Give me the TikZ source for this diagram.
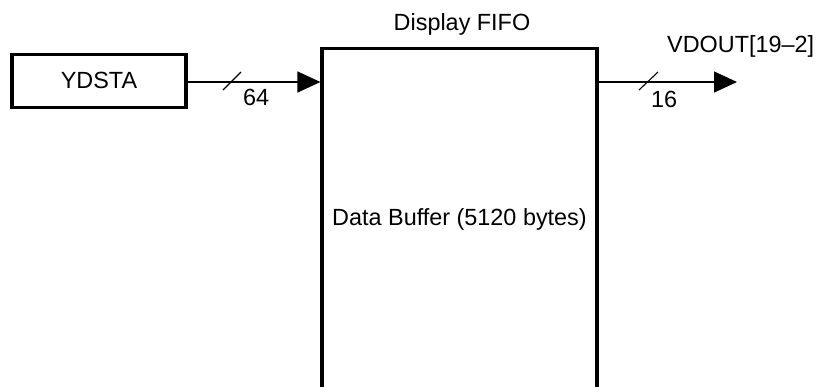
\documentclass[tikz,border=0pt]{standalone}
\usepackage{fontspec}
\setmainfont{Liberation Sans}
\usetikzlibrary{arrows.meta,calc}
\begin{document}
\begin{tikzpicture}[x=1pt,y=-1pt,
  txt/.style={font=\fontsize{23.4}{28}\selectfont, inner sep=0pt},
  blk/.style={draw, line width=3.2pt, inner sep=0pt},
  bus/.style={line width=1.3pt, -{Triangle[length=23pt,width=21pt]}},
  slashmark/.style={line width=1.1pt}]
\clip (0,0) rectangle (817,386);
\node[blk, minimum width=174pt, minimum height=53pt] (yd) at (99,81) {};
\node[txt, anchor=base] (ydt) at (99,88) {YDSTA};
\node[blk, minimum width=275pt, minimum height=420pt, anchor=north] (fifo) at (459.5,47) {};
\node[txt, anchor=base] (title) at (462,30) {Display FIFO};
\node[txt, anchor=base] (buf) at (459.5,225) {Data Buffer (5120 bytes)};
\coordinate (out) at (737,82);
\draw[bus] (yd.east |- 0,82) -- (fifo.west |- 0,82);
\draw[bus] (fifo.east |- 0,82) -- (out);
\draw[slashmark] (223,90) -- (241,72);
\draw[slashmark] (639,90) -- (658,72);
\node[txt, anchor=base west] (w64) at (243,105) {64};
\node[txt, anchor=base west] (w16) at (651,107) {16};
\node[txt, anchor=base west] (vd) at (667,52) {VDOUT[19\textendash2]};
\end{tikzpicture}
\end{document}
